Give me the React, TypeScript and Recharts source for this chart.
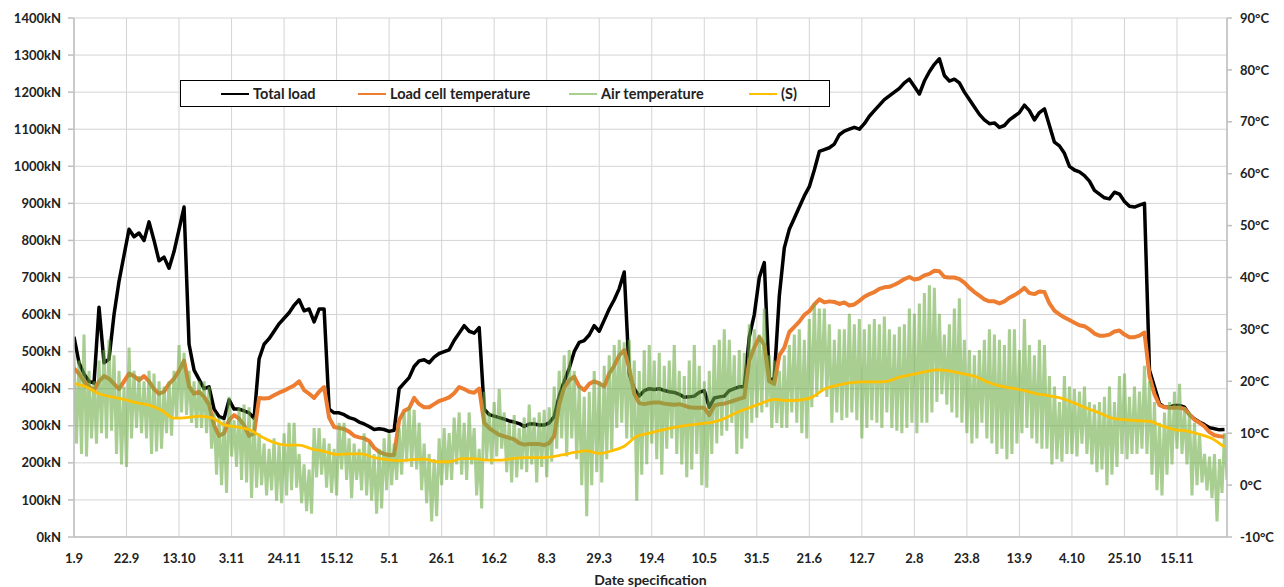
import React from 'react';
import { ComposedChart, Line, XAxis, YAxis, CartesianGrid } from 'recharts';

const TICK_LABELS = ['1.9','22.9','13.10','3.11','24.11','15.12','5.1','26.1','16.2','8.3','29.3','19.4','10.5','31.5','21.6','12.7','2.8','23.8','13.9','4.10','25.10','15.11'];
const STEP = 2; // days between samples
const S_STEP = 5;

// Total load (kN), every 2 days
const LOAD = [
  540,470,440,420,415,620,470,480,600,690,
  760,830,810,820,800,850,800,745,755,725,
  770,830,890,520,450,425,400,405,345,325,
  320,370,345,345,340,335,320,480,520,535,
  555,575,590,605,625,640,610,615,580,615,
  615,345,335,335,330,322,318,310,305,298,
  290,292,290,285,288,400,415,430,460,475,
  478,470,485,495,500,505,530,550,570,555,
  550,565,345,330,326,322,318,313,310,306,
  298,305,305,302,302,308,325,380,420,455,
  500,525,530,545,570,555,585,615,640,670,
  715,440,400,380,395,400,398,400,395,392,
  390,385,377,378,380,390,395,350,375,378,
  380,395,400,405,405,540,600,700,740,420,
  430,650,780,830,860,890,920,945,990,1040,
  1045,1050,1060,1085,1095,1100,1105,1100,1115,1135,
  1150,1165,1180,1190,1200,1210,1225,1235,1215,1195,
  1230,1255,1275,1290,1245,1230,1235,1225,1200,1180,
  1160,1140,1125,1115,1117,1105,1110,1125,1135,1145,
  1165,1150,1125,1145,1155,1110,1065,1055,1035,1000,
  990,985,975,960,935,925,915,912,930,925,
  905,892,890,895,900,450,405,360,350,350,
  355,355,350,330,318,310,303,295,292,289,
  290,
];

// Load cell temperature (°C), every 2 days
const CELL = [
  22.5,21.5,20,19,18.2,20,21,20.5,19.5,18.5,
  20,21.5,21,20.2,21,20,18.5,17.6,18,19.5,
  20.5,22,24,19,17.6,18,17,15.5,11.5,9.5,
  10,12.5,13.5,12.8,11.5,9.5,10,16.8,16.7,16.8,
  17.3,17.8,18.2,18.7,19.2,20,18.3,17.6,16.8,18,
  18.9,13,11.2,11,10.8,10.3,9.5,9.2,9,8.5,
  7.2,6.4,6,5.8,5.8,12.5,14.3,14.8,16.8,15.6,
  15,15,15.6,16.2,16.5,16.9,17.7,18.9,18.5,18,
  17.8,18.6,12,11,10.3,9.7,9.4,9.1,8.8,8.1,
  7.8,7.9,7.9,7.9,7.7,8.1,9.5,15.6,18.8,20.2,
  20.9,19,18.3,19.5,20,19.6,19,21.5,23,25,
  26,22.5,17.6,15.8,15.6,15.8,15.9,15.9,15.7,15.6,
  15.5,15.6,15.3,15,14.9,14.9,14.9,13.5,15.3,15.6,
  15.7,16,16.3,16.6,16.9,24,26.5,28.5,27,20,
  19.5,25,26.5,29.5,30.5,31.5,32.8,33.5,34.8,35.8,
  35.2,35.4,35.3,34.9,35.2,34.6,34.8,35.5,36.3,36.8,
  37.2,37.8,38.1,38.2,38.6,39.1,39.7,40.1,39.6,39.8,
  40.4,40.7,41.3,41.2,40.1,40,40,39.7,39,38,
  37.2,36.5,35.8,35.4,35.4,35,35.4,36.1,36.6,37.2,
  38,37,36.8,37.3,37.2,35,33.6,32.9,32.3,31.8,
  31.3,30.8,30.6,30,29.2,28.8,28.8,29,29.6,29.8,
  29,28.5,28.5,28.8,29.4,21,17.5,15.4,15,14.9,
  14.9,14.9,14.7,13.6,12.6,12,11.3,10.2,9.6,9.4,
  9.3,
];

// Air temperature (°C): highs and lows, every 2 days
const AIR_HI = [
  25,24,29,22,20,24,26,28,25,22,
  19,26.5,22,21,20,22,21.5,20,19,20,
  22,27,25.5,22,20,20,20,19,14,13,
  12.5,17,12.5,15,15.5,15,13,10,8,7,
  9,8,10,12,12,6,4,3,11,11,
  9,8,7,12,12,9,8,7,10,8,
  6,7,9,10,8,11,14,15,14.5,12,
  8,6,5,9,11,10,13,14,12,14,
  11,7,18,14,16,18.5,14,12,13.5,11,
  13,15.5,13,14,14.5,15,19,22,25,26,
  22,19,17,18,22,20,23,25,27,28,
  27.5,28,24,22,26,27,24,25.5,23,24,
  27,22,21,24,27,23,20,22,27,28,
  30,28,25,26,25.5,31,30,29,34,25,
  24,22,25,27,29,30,28,32,35,34,
  34,31,28,30,30,33,31,32,30,31,
  32,31,32.5,30,29,30.5,31,34,33,35,
  37,38.5,38,33,29,31,34,36,28,26,
  25,26,28,30,29,28,27,30,30,26,
  32,27,25,28,27,21,19,16,21,19,
  18.5,18,19,16,15.5,16,17,19,16,21,
  21.5,17,19,18,23,20,16,12,14,16,
  18,19.5,15,14,12,10,6,5.5,6,5,
  10,
];
const AIR_LO = [
  8,6,5.5,9,8,10,9,10.5,6,4,
  3.5,9,11,10,9,6,6.5,7,10,9.5,
  13,14,13.5,12,11,11,10,7,2,0,
  -1.5,5.5,3.5,1,0.5,-2.5,-0.5,0,-2,-1,
  -3,-3.5,-2,-1,-0.5,-3.5,-5,-5.5,1.5,2,
  -0.5,-1.5,-2,3,1,-2.5,1,-1,-2,-3,
  -5.5,-4.5,-1,0,1,2,4.5,3.5,3,-1,
  -3.5,-7,-6,0,1,1,4,2,1,4,
  -2,-4.5,5,4,5.5,7,2.5,0.5,1.5,3,
  2.5,4,0.5,3.5,1.5,4.5,7,9,5.5,9,
  5,0,-6,0,2.5,0.5,5,6.5,11,12,
  9,9,-3,2,4,8,5,2,7,9,
  6,4,1.5,3,6,0,-0.5,6,8,9.5,
  10.5,12,6,7,9,12,13,14,15,11,
  12,11,11,14,12,10,9,15,17,18,
  17,12,14,12.5,13,14,12.5,9,11,12.5,
  12,11,14,11,10.5,10,11,12,10,12,
  12,14,16,17.5,15.5,14,13,12,10,8,
  9,12,9,8,6,7,5,6,8,10,
  11,9,8,7,7,4,5,4.5,6,6,
  5.5,8,6,4,2.5,3,0,2,3.5,6,
  5,6,6,7,6,2,-1,-2,2,4,
  7,6,4,-2,0,0.5,-1,-2.5,-7,-1.5,
  1,
];

// (S) smoothed temperature (°C), every 5 days
const S_VALS = [
  19.6,18.9,17.6,17,16.5,15.9,15.4,14.4,12.9,13,
  13.3,13,11.6,11.2,10.7,9.3,8.2,7.7,7.7,7,
  6.5,5.9,6,6,5.3,4.9,4.7,4.9,5,4.5,
  4.5,5.1,5.1,4.8,4.8,5.1,5.3,5.3,5.4,5.8,
  6.3,6.6,6.1,6.6,7.5,9.4,10,10.6,11.1,11.5,
  11.8,12.1,12.8,14,14.9,15.8,16.5,16.3,16.4,16.9,
  18.5,19.2,19.7,19.9,19.9,20,20.8,21.3,21.8,22.2,
  22,21.5,21,19.9,19.1,18.7,18.2,17.6,17.2,16.7,
  15.8,14.8,13.9,12.9,12.6,12.4,12.3,11.4,10.7,10.4,
  9.8,9,7.3,
];

const LOAD_TICKS = [0,100,200,300,400,500,600,700,800,900,1000,1100,1200,1300,1400];
const TEMP_TICKS = [-10,0,10,20,30,40,50,60,70,80,90];

const loadData = LOAD.map((v, i) => ({ d: i * STEP, v }));
const cellData = CELL.map((v, i) => ({ d: i * STEP, v }));
const airData = AIR_HI.flatMap((h, i) => [
  { d: i * STEP, v: h },
  { d: i * STEP + 1, v: AIR_LO[i] },
]);
const sData = S_VALS.map((v, i) => ({ d: i * S_STEP, v }));

const FONT = 'Lato, "Open Sans", sans-serif';
const tickStyle = { fontFamily: FONT, fontWeight: 700, fontSize: 13, fill: '#222' };

const LEGEND_ITEMS = [
  { name: 'Total load', color: '#000000', left: 40 },
  { name: 'Load cell temperature', color: '#ED7D31', left: 177 },
  { name: 'Air temperature', color: '#A9D18E', left: 388 },
  { name: '(S)', color: '#FFC000', left: 568 },
];

export default function App() {
  return (
    <div style={{ position: 'relative', width: 1276, height: 579 }}>
      <ComposedChart width={1276} height={579} margin={{ top: 10, right: 0, bottom: 0, left: 0 }}>
        <CartesianGrid yAxisId="left" stroke="#d4d4d4" strokeWidth={1} />
        <XAxis
          dataKey="d"
          type="number"
          domain={[0, 461]}
          allowDataOverflow
          ticks={TICK_LABELS.map((_, i) => i * 21)}
          tickFormatter={(v: number) => TICK_LABELS[Math.round(v / 21)]}
          tick={tickStyle}
          tickSize={0}
          tickMargin={17}
          height={50}
          stroke="#bfbfbf"
          strokeWidth={1.5}
          label={{ value: 'Date specification', position: 'insideBottom', offset: 2, style: { fontFamily: FONT, fontWeight: 700, fontSize: 14, fill: '#222' } }}
        />
        <YAxis
          yAxisId="left"
          domain={[0, 1400]}
          ticks={LOAD_TICKS}
          tickFormatter={(v: number) => `${v}kN`}
          tick={tickStyle}
          width={66}
          tickSize={6}
          tickMargin={7}
          stroke="#bfbfbf"
          strokeWidth={1.5}
          allowDataOverflow
        />
        <YAxis
          yAxisId="right"
          orientation="right"
          domain={[-10, 90]}
          ticks={TEMP_TICKS}
          tickFormatter={(v: number) => `${v}°C`}
          tick={tickStyle}
          width={57}
          tickSize={5}
          tickMargin={8}
          stroke="#bfbfbf"
          strokeWidth={1.5}
          allowDataOverflow
        />
        <Line yAxisId="left" data={loadData} dataKey="v" type="linear" stroke="#000000" strokeWidth={3.5} strokeLinejoin="round" dot={false} activeDot={false} isAnimationActive={false} />
        <Line yAxisId="right" data={cellData} dataKey="v" type="linear" stroke="#ED7D31" strokeWidth={4} strokeLinejoin="round" dot={false} activeDot={false} isAnimationActive={false} />
        <Line yAxisId="right" data={airData} dataKey="v" type="linear" stroke="#70AD47" strokeOpacity={0.6} strokeWidth={3} strokeLinejoin="bevel" dot={false} activeDot={false} isAnimationActive={false} />
        <Line yAxisId="right" data={sData} dataKey="v" type="monotone" stroke="#FFC000" strokeWidth={2.8} dot={false} activeDot={false} isAnimationActive={false} />
      </ComposedChart>
      <div
        style={{
          position: 'absolute', left: 172, top: 72, width: 650, height: 27,
          border: '1.5px solid #000', background: '#fff', boxSizing: 'border-box',
        }}
      >
        {LEGEND_ITEMS.map((it) => (
          <div key={it.name} style={{ position: 'absolute', left: it.left, top: 0, height: '100%', display: 'flex', alignItems: 'center' }}>
            <div style={{ width: 28, height: 2, background: it.color, marginRight: 4 }} />
            <span style={{ fontFamily: FONT, fontWeight: 700, fontSize: 14.5, color: '#222', whiteSpace: 'nowrap' }}>{it.name}</span>
          </div>
        ))}
      </div>
    </div>
  );
}
